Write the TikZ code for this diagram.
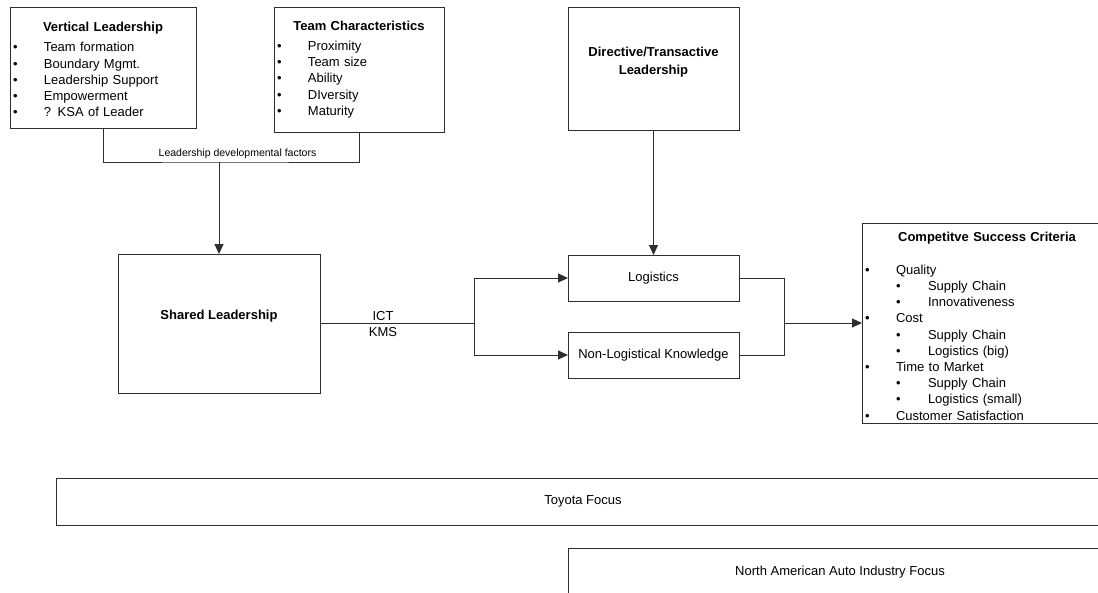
\documentclass[tikz,border=0pt]{standalone}
\usepackage{fontspec}
\setmainfont{Liberation Sans}
\usepackage{xcolor}
\usetikzlibrary{arrows.meta}
\definecolor{edgeG}{HTML}{2E2E2E}
\newcommand{\lvlone}[1]{\makebox[31pt][l]{\textbullet}#1}
\newcommand{\lvltwo}[1]{\hspace*{31pt}\makebox[32pt][l]{\textbullet}#1}

\begin{document}
\begin{tikzpicture}[x=1pt,y=-1pt,
    every node/.style={font=\fontsize{13pt}{16.2pt}\selectfont,text=black},
    box/.style={draw=edgeG,line width=1pt,inner sep=0pt,outer sep=0pt},
    listbox/.style={box,inner xsep=3pt,align=left},
    head/.style={font=\fontsize{13pt}{16.2pt}\selectfont\bfseries},
    wire/.style={draw=edgeG,line width=1pt},
    arr/.style={wire,-{Triangle[length=10pt,width=9pt]}}]
  \useasboundingbox (0,0) rectangle (1098,592);
  \clip (0,0) rectangle (1098,592);
  \node[listbox,text width=180pt,minimum height=121pt] (vl) at (103,67.5)
    {\rule{0pt}{13.4pt}\makebox[\hsize][c]{\bfseries Vertical Leadership}\\[4pt]
     \lvlone{Team formation}\\ \lvlone{Boundary Mgmt.}\\ \lvlone{Leadership Support}\\
     \lvlone{Empowerment}\\ \lvlone{? KSA of Leader}};
  \node[listbox,text width=164pt,minimum height=125pt] (tc) at (359,69.5)
    {\makebox[\hsize][c]{\bfseries Team Characteristics}\\[4pt]
     \lvlone{Proximity}\\ \lvlone{Team size}\\ \lvlone{Ability}\\
     \lvlone{DIversity}\\ \lvlone{Maturity}};
  \node[box,minimum width=171pt,minimum height=123pt] (dtl) at (653.5,68.5) {};
  \node[head,align=center] (dtltitle) at ([yshift=6.5pt]dtl.center)
    {Directive/Transactive\\[1.5pt]Leadership};
  \node[box,minimum width=202pt,minimum height=139pt] (sl) at (219,323.5) {};
  \node[head] (sltitle) at ([yshift=7pt]sl.center) {Shared Leadership};
  \node[box,minimum width=171pt,minimum height=46pt] (log) at (653.5,278) {Logistics};
  \node[box,minimum width=171pt,minimum height=46pt] (nlk) at (653.5,355) {Non-Logistical Knowledge};
  \node[listbox,text width=244pt,minimum height=200pt] (csc) at (987,323)
    {\rule{0pt}{15.4pt}\makebox[\hsize][c]{\bfseries Competitve Success Criteria}\\[16.8pt]
     \lvlone{Quality}\\ \lvltwo{Supply Chain}\\ \lvltwo{Innovativeness}\\
     \lvlone{Cost}\\ \lvltwo{Supply Chain}\\ \lvltwo{Logistics (big)}\\
     \lvlone{Time to Market}\\ \lvltwo{Supply Chain}\\ \lvltwo{Logistics (small)}\\
     \lvlone{Customer Satisfaction}};
  \node[box,minimum width=1054pt,minimum height=47pt] (toy) at (583,501.5) {Toyota Focus};
  \node[box,minimum width=544pt,minimum height=48pt] (naf) at (840,572) {North American Auto Industry Focus};

  \coordinate (ldf) at (219,162);
  \draw[wire] (vl.south) |- (ldf) -| (tc.south);
  \node[font=\fontsize{10.5pt}{12pt}\selectfont] (ldflabel) at (237.5,154) {Leadership developmental factors};
  \draw[arr] (ldf) -- (sl.north);
  \coordinate (split) at (474,323.5);
  \draw[wire] (sl.east) -- (split);
  \draw[arr] (split) |- (log.west);
  \draw[arr] (split) |- (nlk.west);
  \node[align=center] (ictkms) at (383,324) {ICT\\KMS};
  \draw[arr] (dtl.south) -- (log.north);
  \coordinate (merge) at (784,323);
  \draw[wire] (log.east) -| (merge);
  \draw[wire] (nlk.east) -| (merge);
  \draw[arr] (merge) -- (csc.west);
\end{tikzpicture}
\end{document}
